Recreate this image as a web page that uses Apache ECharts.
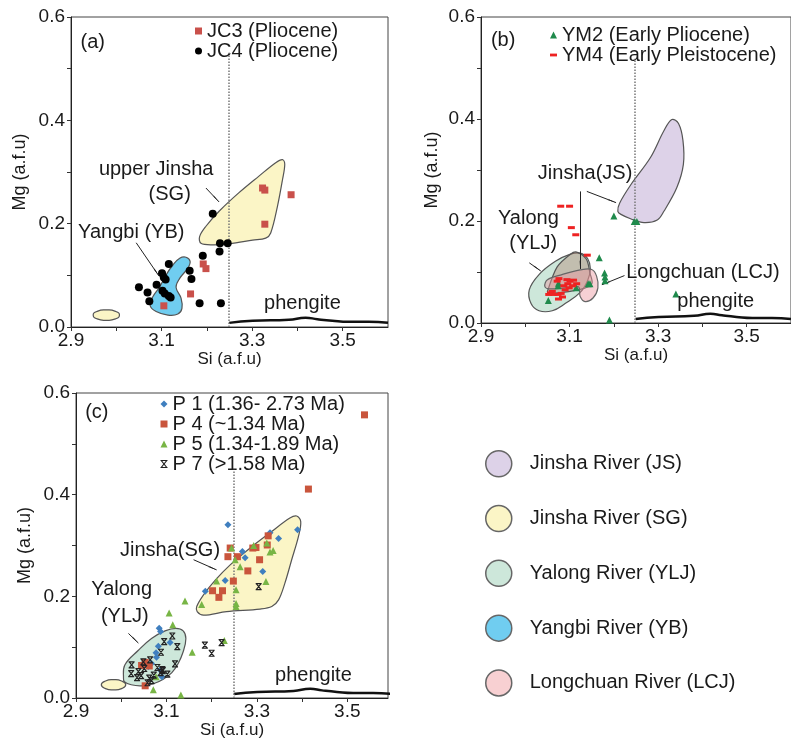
<!DOCTYPE html>
<html><head><meta charset="utf-8">
<script src="https://cdn.jsdelivr.net/npm/echarts@6/dist/echarts.min.js"></script>
<style>html,body{margin:0;padding:0;background:#fff}#c{width:791px;height:745px}</style>
</head><body><div id="c"></div>
<script>
const xTickLabels = ['2.9','3.1','3.3','3.5'];
const yTickLabels = ['0.0','0.2','0.4','0.6'];

// ---- Panel (a) samples ----
const jc3 = [[3.323,0.269],[3.328,0.265],[3.386,0.256],[3.328,0.199],[3.192,0.122],[3.198,0.113],[3.164,0.064],[3.105,0.041]];
const jc4 = [[3.213,0.219],[3.229,0.162],[3.246,0.162],[3.228,0.146],[3.191,0.138],[3.116,0.122],[3.101,0.104],[3.105,0.096],[3.109,0.092],[3.162,0.109],[3.166,0.093],[3.089,0.082],[3.050,0.077],[3.069,0.067],[3.102,0.070],[3.107,0.065],[3.116,0.060],[3.120,0.057],[3.073,0.050],[3.184,0.046],[3.231,0.046]];
// ---- Panel (b) samples ----
const ym2 = [[3.200,0.210],[3.246,0.199],[3.252,0.199],[3.167,0.128],[3.179,0.098],[3.180,0.090],[3.180,0.083],[3.142,0.077],[3.146,0.077],[3.074,0.073],[3.075,0.078],[3.115,0.069],[3.052,0.044],[3.190,0.006],[3.340,0.057]];
const ym4 = [[3.080,0.229],[3.100,0.229],[3.104,0.187],[3.114,0.173],[3.140,0.133],[3.076,0.087],[3.072,0.082],[3.094,0.085],[3.101,0.082],[3.109,0.084],[3.087,0.073],[3.096,0.077],[3.099,0.069],[3.090,0.065],[3.107,0.073],[3.057,0.059],[3.064,0.056],[3.074,0.056],[3.081,0.058],[3.084,0.051],[3.075,0.047],[3.061,0.062],[3.053,0.056],[3.116,0.077]];
// ---- Panel (c) samples ----
const p1 = [[3.236,0.341],[3.329,0.325],[3.348,0.314],[3.390,0.331],[3.268,0.288],[3.274,0.276],[3.313,0.249],[3.230,0.231],[3.186,0.210],[3.084,0.137],[3.087,0.131],[3.108,0.109],[3.082,0.102],[3.077,0.089],[3.067,0.068],[3.060,0.062],[3.049,0.068],[3.086,0.055],[3.090,0.042],[3.078,0.080]];
const p4 = [[3.538,0.557],[3.414,0.411],[3.241,0.295],[3.236,0.278],[3.257,0.278],[3.291,0.295],[3.298,0.296],[3.325,0.319],[3.323,0.301],[3.306,0.272],[3.280,0.250],[3.248,0.230],[3.202,0.211],[3.224,0.211],[3.216,0.198],[3.053,0.024],[3.053,0.070],[3.045,0.064],[3.062,0.063]];
const p5 = [[3.244,0.295],[3.263,0.258],[3.322,0.305],[3.329,0.287],[3.252,0.272],[3.320,0.229],[3.254,0.213],[3.254,0.186],[3.254,0.180],[3.211,0.230],[3.178,0.184],[3.141,0.191],[3.106,0.167],[3.114,0.144],[3.157,0.090],[3.228,0.113],[3.132,0.006],[3.071,0.016],[3.077,0.042],[3.336,0.290],[3.293,0.300]];
const p7 = [[3.113,0.122],[3.095,0.111],[3.124,0.101],[3.088,0.090],[3.119,0.067],[3.102,0.047],[3.091,0.056],[3.087,0.050],[3.064,0.075],[3.049,0.071],[3.023,0.065],[3.022,0.048],[3.038,0.052],[3.044,0.044],[3.062,0.039],[3.067,0.034],[3.051,0.058],[3.080,0.060],[3.092,0.054],[3.072,0.045],[3.035,0.040],[3.058,0.030],[3.185,0.104],[3.200,0.088],[3.222,0.109],[3.304,0.219]];

// ---- Source fields (outline vertices, Si / Mg) ----
const fieldSG_a = [[3.187,0.162],[3.184,0.175],[3.198,0.195],[3.227,0.224],[3.271,0.260],[3.315,0.292],[3.352,0.318],[3.367,0.324],[3.372,0.315],[3.367,0.285],[3.356,0.234],[3.341,0.182],[3.330,0.172],[3.301,0.168],[3.249,0.161],[3.213,0.159]];
const fieldYB_a = [[3.075,0.041],[3.081,0.059],[3.096,0.078],[3.110,0.101],[3.125,0.120],[3.140,0.133],[3.154,0.135],[3.163,0.127],[3.158,0.114],[3.140,0.094],[3.132,0.077],[3.143,0.056],[3.145,0.036],[3.136,0.025],[3.114,0.023],[3.088,0.030]];
const fieldSmall_a = [[2.949,0.023],[2.957,0.030],[2.978,0.033],[2.999,0.030],[3.007,0.023],[2.999,0.016],[2.978,0.013],[2.957,0.016]];
const fieldJS_b = [[3.209,0.219],[3.213,0.235],[3.239,0.272],[3.283,0.325],[3.313,0.377],[3.331,0.399],[3.346,0.391],[3.356,0.358],[3.357,0.311],[3.342,0.265],[3.313,0.219],[3.298,0.202],[3.268,0.197],[3.239,0.204],[3.216,0.213]];
const fieldYLJ_b = [[3.009,0.065],[3.031,0.095],[3.068,0.121],[3.102,0.135],[3.124,0.137],[3.141,0.126],[3.147,0.106],[3.141,0.084],[3.124,0.060],[3.090,0.038],[3.061,0.024],[3.031,0.024],[3.013,0.038]];
const fieldJS2_b = [[3.050,0.062],[3.072,0.110],[3.102,0.135],[3.116,0.139],[3.138,0.125],[3.146,0.098],[3.151,0.079],[3.142,0.071],[3.120,0.065],[3.076,0.059],[3.052,0.059]];
const fieldLCJ_b = [[3.044,0.072],[3.050,0.085],[3.083,0.095],[3.124,0.104],[3.150,0.105],[3.161,0.092],[3.164,0.069],[3.153,0.049],[3.135,0.042],[3.124,0.052],[3.120,0.071],[3.090,0.069],[3.053,0.067]];
const fieldSG_c = [[3.168,0.170],[3.167,0.180],[3.182,0.203],[3.208,0.232],[3.241,0.262],[3.285,0.295],[3.329,0.325],[3.373,0.354],[3.388,0.358],[3.397,0.347],[3.392,0.318],[3.377,0.272],[3.362,0.226],[3.348,0.193],[3.333,0.180],[3.307,0.175],[3.233,0.170],[3.182,0.163]];
const fieldYLJ_c = [[3.005,0.039],[3.008,0.065],[3.038,0.094],[3.067,0.117],[3.097,0.132],[3.121,0.137],[3.137,0.132],[3.143,0.117],[3.137,0.091],[3.126,0.068],[3.112,0.050],[3.093,0.037],[3.071,0.028],[3.045,0.024],[3.022,0.026],[3.007,0.032]];
const fieldSmall_c = [[2.956,0.026],[2.964,0.033],[2.983,0.036],[3.002,0.033],[3.010,0.026],[3.002,0.019],[2.983,0.016],[2.964,0.019]];

// ---- Phengite curve ----
const phengite = [[3.249,0.008],[3.301,0.012],[3.381,0.014],[3.418,0.018],[3.444,0.015],[3.477,0.012],[3.513,0.010],[3.557,0.010],[3.600,0.008]];
const siLimit = 3.248;

// ---- Annotations ----
const notesA = [[2.948,0.551,'(a)'],[3.088,0.305,'upper Jinsha'],[3.118,0.256,'(SG)'],[3.033,0.182,'Yangbi (YB)'],[3.411,0.045,'phengite']];
const notesB = [[2.950,0.554,'(b)'],[3.135,0.294,'Jinsha(JS)'],[3.007,0.205,'Yalong'],[3.018,0.155,'(YLJ)'],[3.401,0.099,'Longchuan (LCJ)'],[3.430,0.043,'phengite']];
const notesC = [[2.946,0.561,'(c)'],[3.108,0.291,'Jinsha(SG)'],[3.001,0.213,'Yalong'],[3.008,0.160,'(YLJ)'],[3.425,0.045,'phengite']];
const arrowsA = [[[3.198,0.269],[3.227,0.242]],[[3.044,0.163],[3.094,0.099]]];
const arrowsB = [[[3.139,0.258],[3.205,0.236]],[[3.124,0.258],[3.124,0.106]],[[3.009,0.118],[3.035,0.102]],[[3.224,0.093],[3.173,0.075]]];
const arrowsC = [[[3.160,0.272],[3.211,0.252]],[[3.016,0.127],[3.038,0.108]]];
const dotTop = [0.531, 0.518, 0.449];

const FONT = "'Liberation Sans', Arial, sans-serif";
const INK = '#1a1a1a';
const C = {
  JS: '#ddd2e8', SG: '#fbf5c6', YLJ: '#cde7da', YB: '#70cdf0', LCJ: '#f8d0d2'
};
const NAMES = {
  JS: 'Jinsha River (JS)', SG: 'Jinsha River (SG)', YLJ: 'Yalong River (YLJ)', YB: 'Yangbi River (YB)', LCJ: 'Longchuan River (LCJ)'
};
const XSYM = 'path://M0 0H10M0 10H10M1 0L9 10M9 0L1 10';

function lab(v, list) { const s = (Math.round(v * 10) / 10).toFixed(1); return list.indexOf(s) >= 0 ? s : ''; }

function xAxis(gi, max, gap) {
  return {type:'value', gridIndex:gi, min:2.9, max:max, interval:0.1,
    name:'Si (a.f.u)', nameLocation:'middle', nameGap:gap,
    nameTextStyle:{fontSize:17, color:INK, fontFamily:FONT},
    axisLine:{onZero:false, lineStyle:{color:'#222', width:1}},
    axisTick:{show:true, inside:false, length:4, lineStyle:{color:'#333'}},
    axisLabel:{formatter:v=>lab(v,xTickLabels), fontSize:19, color:INK, margin:4, showMaxLabel:false, fontFamily:FONT},
    splitLine:{show:false}};
}
function yAxis(gi, gap) {
  return {type:'value', gridIndex:gi, min:0, max:0.6, interval:0.1,
    name:'Mg (a.f.u)', nameLocation:'middle', nameGap:gap, nameRotate:90,
    nameTextStyle:{fontSize:18, color:INK, fontFamily:FONT},
    axisLine:{onZero:false, lineStyle:{color:'#222', width:1}},
    axisTick:{show:true, inside:false, length:4, lineStyle:{color:'#333'}},
    axisLabel:{formatter:v=>lab(v,yTickLabels), fontSize:19, color:INK, margin:6, fontFamily:FONT},
    splitLine:{show:false}};
}
function field(name, verts, gi, fill, smooth, z, stroke) {
  return {type:'custom', name:name, xAxisIndex:gi, yAxisIndex:gi, data:verts, encode:{x:0,y:1},
    silent:true, z:z||1, itemStyle:{color:fill},
    renderItem:function(params, api){
      if (params.dataIndex !== 0) return null;
      const pts = verts.map(v => api.coord(v));
      return {type:'polygon', shape:{points:pts, smooth:smooth}, style:{fill:fill, stroke:stroke||'#555', lineWidth:1.2}};
    }};
}
function pts(name, data, gi, symbol, size, style) {
  return {type:'scatter', name:name, xAxisIndex:gi, yAxisIndex:gi, data:data, symbol:symbol, symbolSize:size,
    itemStyle:Object.assign({opacity:1}, style), z:5, silent:true};
}
function notes(items, arrows, gi) {
  return {type:'scatter', name:'notes'+gi, xAxisIndex:gi, yAxisIndex:gi, symbolSize:0, silent:true, z:10,
    itemStyle:{opacity:1},
    data: items.map(n => ({value:[n[0], n[1]], name:n[2]})),
    label:{show:true, position:'inside', formatter:'{b}', fontSize:20, color:INK, opacity:1, fontFamily:FONT},
    markLine:{silent:true, symbol:['none','arrow'], symbolSize:[1,9], animation:false,
      lineStyle:{color:'#222', width:1, type:'solid', opacity:1}, label:{show:false},
      data: arrows.map(a => [{coord:a[0]}, {coord:a[1]}])}};
}
function phen(gi, top) {
  return {type:'line', name:'phengite'+gi, xAxisIndex:gi, yAxisIndex:gi, data:phengite, showSymbol:false, smooth:true,
    silent:true, z:4, lineStyle:{color:'#111', width:2.5},
    markLine:{silent:true, symbol:'none', animation:false, label:{show:false},
      lineStyle:{color:'#777', width:1.5, type:'dotted', opacity:1},
      data:[[{coord:[siLimit,0]},{coord:[siLimit,top]}]]}};
}

const chart = echarts.init(document.getElementById('c'), null, {renderer:'canvas'});
chart.setOption({
  animation:false,
  backgroundColor:'#fff',
  textStyle:{fontFamily:FONT},
  grid:[
    {left:71, top:17, width:317, height:310, show:true, borderColor:'#444', borderWidth:1},
    {left:481, top:17, width:315, height:306, show:true, borderColor:'#444', borderWidth:1},
    {left:76, top:393, width:312, height:305, show:true, borderColor:'#444', borderWidth:1}
  ],
  xAxis:[xAxis(0,3.6,20), xAxis(1,3.6,22), xAxis(2,3.59,24)],
  yAxis:[yAxis(0,42), yAxis(1,40), yAxis(2,42)],
  legend:[
    {left:195, top:21, padding:0, orient:'vertical', itemWidth:7, itemHeight:7, itemGap:0,
      textStyle:{fontSize:20, lineHeight:18, color:INK},
      data:[{name:'JC3 (Pliocene)', icon:'rect'},{name:'JC4 (Pliocene)', icon:'circle'}]},
    {left:550, top:25, padding:0, orient:'vertical', itemWidth:7, itemHeight:7, itemGap:0,
      textStyle:{fontSize:20, lineHeight:18, color:INK},
      data:[{name:'YM2 (Early Pliocene)', icon:'triangle'},{name:'YM4 (Early Pleistocene)', icon:'path://M0,0H10V4H0Z'}]},
    {left:158, top:394, padding:0, orient:'vertical', itemWidth:7, itemHeight:7, itemGap:0,
      textStyle:{fontSize:20, lineHeight:19.5, color:INK},
      data:[{name:'P 1 (1.36- 2.73 Ma)', icon:'diamond'},{name:'P 4 (~1.34 Ma)', icon:'rect'},
            {name:'P 5 (1.34-1.89 Ma)', icon:'triangle'},
            {name:'P 7 (>1.58 Ma)', icon:XSYM, itemStyle:{color:'none', borderColor:'#222', borderWidth:1.2}}]},
    {left:485, top:450, padding:0, orient:'vertical', itemWidth:52, itemHeight:26, itemGap:27.3,
      textStyle:{fontSize:20, color:INK},
      data:['JS','SG','YLJ','YB','LCJ'].map(k => ({name:NAMES[k], icon:'circle',
        itemStyle:{color:C[k], borderColor:'#666', borderWidth:1.5}}))}
  ],
  series:[
    // (a)
    field(NAMES.SG, fieldSG_a, 0, C.SG, 0.35),
    field(NAMES.YB, fieldYB_a, 0, C.YB, 0.4),
    field(NAMES.SG, fieldSmall_a, 0, C.SG, 0.6),
    phen(0, dotTop[0]),
    pts('JC3 (Pliocene)', jc3, 0, 'rect', 7, {color:'#c9504b'}),
    pts('JC4 (Pliocene)', jc4, 0, 'circle', 8, {color:'#000'}),
    notes(notesA, arrowsA, 0),
    // (b)
    field(NAMES.JS, fieldJS_b, 1, C.JS, 0.35),
    field(NAMES.YLJ, fieldYLJ_b, 1, C.YLJ, 0.4),
    field(NAMES.JS, fieldJS2_b, 1, 'rgba(175,120,100,0.36)', 0.3, 2, '#555'),
    field(NAMES.LCJ, fieldLCJ_b, 1, 'rgba(236,150,160,0.45)', 0.35, 3, '#666'),
    phen(1, dotTop[1]),
    pts('YM2 (Early Pliocene)', ym2, 1, 'triangle', 7, {color:'#1f8a4c'}),
    pts('YM4 (Early Pleistocene)', ym4, 1, 'rect', [7,3], {color:'#ee2222'}),
    notes(notesB, arrowsB, 1),
    // (c)
    field(NAMES.SG, fieldSG_c, 2, C.SG, 0.35),
    field(NAMES.YLJ, fieldYLJ_c, 2, C.YLJ, 0.4),
    field(NAMES.SG, fieldSmall_c, 2, C.SG, 0.6),
    phen(2, dotTop[2]),
    pts('P 1 (1.36- 2.73 Ma)', p1, 2, 'diamond', 7, {color:'#3f7fbf'}),
    pts('P 4 (~1.34 Ma)', p4, 2, 'rect', 7, {color:'#c9553c'}),
    pts('P 5 (1.34-1.89 Ma)', p5, 2, 'triangle', 7, {color:'#78b545'}),
    pts('P 7 (>1.58 Ma)', p7, 2, XSYM, 6, {color:'none', borderColor:'#222', borderWidth:1.2}),
    notes(notesC, arrowsC, 2)
  ]
});
</script>
</body></html>
